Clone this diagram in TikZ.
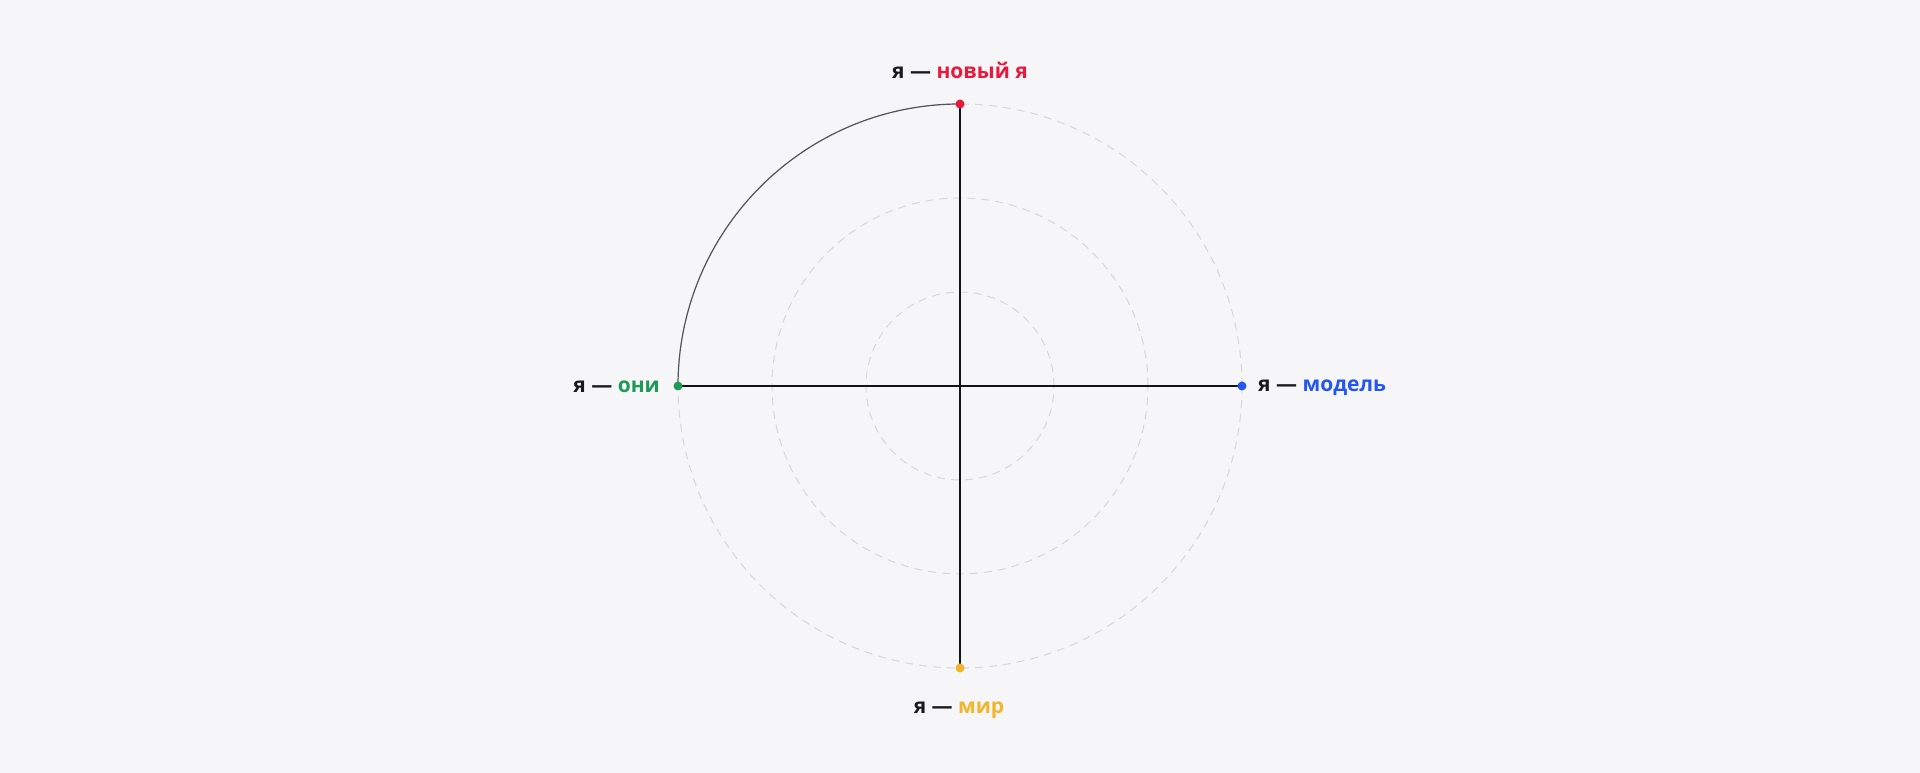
\documentclass[tikz,border=0pt]{standalone}
\usepackage{fontspec}
\setmainfont{Open Sans}
\definecolor{bg}{HTML}{F6F6F8}
\definecolor{ring}{HTML}{D6D7DE}
\definecolor{axis}{HTML}{141414}
\definecolor{arcc}{HTML}{555555}
\definecolor{ink}{HTML}{1A1A1A}
\definecolor{cred}{HTML}{E8193C}
\definecolor{cgreen}{HTML}{1E9A56}
\definecolor{cblue}{HTML}{2557F0}
\definecolor{cyellow}{HTML}{F2B52E}
\tikzset{
  ringline/.style={draw=ring, line width=1pt, dash pattern=on 8pt off 6pt},
  axisline/.style={draw=axis, line width=1.8pt},
  arcline/.style={draw=arcc, line width=1.2pt},
  dot/.style={circle, inner sep=0pt, minimum size=9pt, fill=#1, draw=none},
  lab/.style={inner sep=0pt, font=\bfseries\fontsize{21}{25}\selectfont, text=ink},
}
\begin{document}
\begin{tikzpicture}[x=1pt,y=1pt]
\fill[bg] (0,0) rectangle (1920,773);
\useasboundingbox (0,0) rectangle (1920,773);
\coordinate (C) at (960,387);
\draw[ringline] (C) circle[radius=94];
\draw[ringline] (C) circle[radius=188];
\draw[ringline] (C) circle[radius=282];
\coordinate (cT) at (960,669);
\coordinate (cB) at (960,105);
\coordinate (cL) at (678,387);
\coordinate (cR) at (1242,387);
\draw[axisline] (cT) -- (cB);
\draw[axisline] (cL) -- (cR);
\draw[arcline] (cL) arc[start angle=180, end angle=90, radius=282];
\node[dot=cred] (T) at (cT) {};
\node[dot=cyellow] (B) at (cB) {};
\node[dot=cgreen] (L) at (cL) {};
\node[dot=cblue] (R) at (cR) {};
\node[lab, anchor=base] (lT) at (960,694.7) {я — \textcolor{cred}{новый я}};
\node[lab, anchor=base east] (lL) at (660,380.5) {я — \textcolor{cgreen}{они}};
\node[lab, anchor=base west] (lR) at (1258,381) {я — \textcolor{cblue}{модель}};
\node[lab, anchor=base] (lB) at (959,59.7) {я — \textcolor{cyellow}{мир}};
\end{tikzpicture}
\end{document}
